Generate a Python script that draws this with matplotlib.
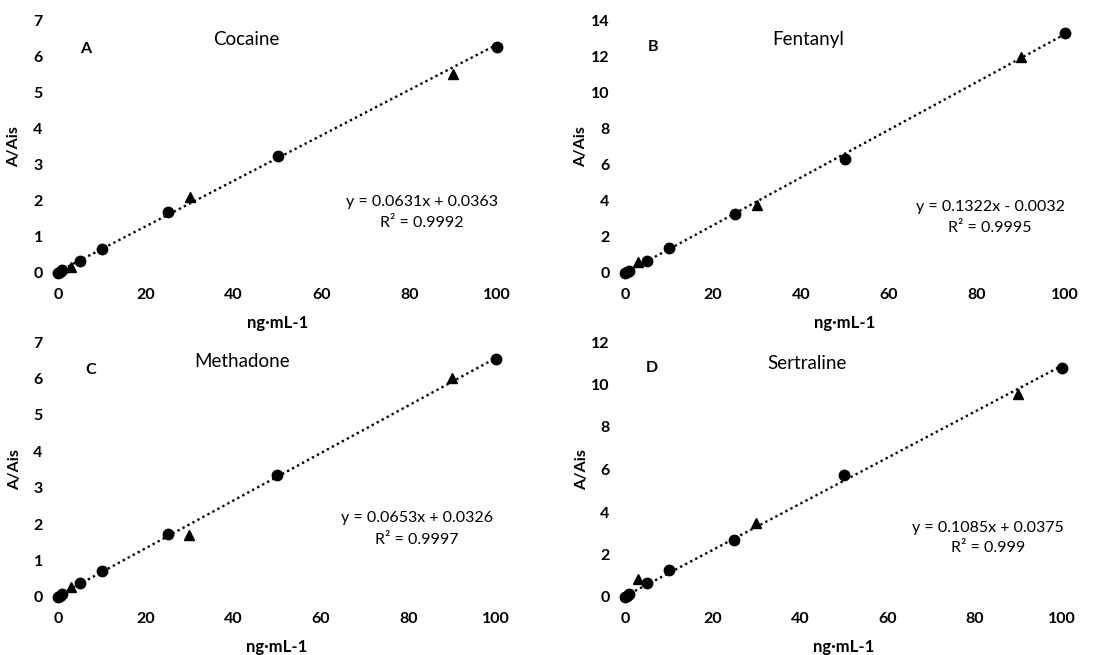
import matplotlib
matplotlib.use("Agg")
import matplotlib.pyplot as plt
import numpy as np

plt.rcParams['font.family'] = ['Lato', 'DejaVu Sans']

# ---- data ----
cal_x = [0, 0.5, 1, 5, 10, 25, 50, 100]          # calibrators (circles)
qc_x = [3, 30, 90]                                 # QC levels (triangles)

names = ["Cocaine", "Fentanyl", "Methadone", "Sertraline"]
letters = ["A", "B", "C", "D"]

cal_y = {
    "Cocaine":    [0.0, 0.04, 0.08, 0.34, 0.66, 1.69, 3.26, 6.29],
    "Fentanyl":   [0.0, 0.06, 0.13, 0.68, 1.40, 3.25, 6.31, 13.26],
    "Methadone":  [0.0, 0.04, 0.07, 0.38, 0.71, 1.74, 3.34, 6.52],
    "Sertraline": [0.0, 0.06, 0.13, 0.66, 1.29, 2.67, 5.76, 10.78],
}
qc_y = {
    "Cocaine":    [0.17, 2.12, 5.52],
    "Fentanyl":   [0.59, 3.76, 11.94],
    "Methadone":  [0.28, 1.69, 6.00],
    "Sertraline": [0.83, 3.50, 9.54],
}
slopes = [0.0631, 0.1322, 0.0653, 0.1085]
intercepts = [0.0363, -0.0032, 0.0326, 0.0375]
eq_text = ["y = 0.0631x + 0.0363", "y = 0.1322x - 0.0032",
           "y = 0.0653x + 0.0326", "y = 0.1085x + 0.0375"]
r2_text = ["R² = 0.9992", "R² = 0.9995", "R² = 0.9997", "R² = 0.999"]

y_max = [7, 14, 7, 12]
y_step = [1, 2, 1, 2]
x_ticks = [0, 20, 40, 60, 80, 100]

# ---- layout ----
W, H = 1106, 655
fig = plt.figure(figsize=(W / 100, H / 100), dpi=100)

# pixel boxes: left, right, top, bottom
boxes = [(58, 497, 21, 273), (625, 1065, 20, 273),
         (58, 496, 342, 597), (625, 1062, 342, 597)]
letter_pos = [(0.064, 0.889), (0.064, 0.893), (0.075, 0.89), (0.062, 0.898)]
title_pos = [(0.428, 0.925), (0.416, 0.921), (0.42, 0.923), (0.416, 0.914)]
eq_pos = [(0.829, 0.283, 0.198), (0.83, 0.26, 0.178),
          (0.82, 0.31, 0.224), (0.83, 0.27, 0.192)]

for i, name in enumerate(names):
    l, r, t, b = boxes[i]
    ax = fig.add_axes([l / W, 1 - b / H, (r - l) / W, (b - t) / H])
    for s in ax.spines.values():
        s.set_visible(False)
    ax.set_xlim(0, 100)
    ax.set_ylim(0, y_max[i])

    xl = np.array([0, 100])
    ax.plot(xl, slopes[i] * xl + intercepts[i], linestyle=(0, (1, 1.4)),
            color='black', linewidth=1.7, clip_on=False, zorder=2)
    ax.plot(cal_x, cal_y[name], 'o', color='black', markersize=7.5,
            clip_on=False, zorder=3)
    ax.plot(qc_x, qc_y[name], '^', color='black', markersize=7.5,
            clip_on=False, zorder=3)

    ax.set_xticks(x_ticks)
    ax.set_yticks(np.arange(0, y_max[i] + 0.1, y_step[i]))
    ax.tick_params(length=0, labelsize=11.5, pad=11)
    for lab in ax.get_xticklabels() + ax.get_yticklabels():
        lab.set_fontweight('bold')

    ax.set_xlabel("ng·mL-1", fontsize=12, fontweight='bold')
    ax.set_ylabel("A/Ais", fontsize=11.5, fontweight='bold')
    ax.xaxis.set_label_coords(0.5, -0.165)
    ax.yaxis.set_label_coords(-0.083, 0.5)

    ax.text(*letter_pos[i], letters[i], transform=ax.transAxes, fontsize=11.5,
            fontweight='bold', ha='center', va='center')
    ax.text(*title_pos[i], name, transform=ax.transAxes, fontsize=13.5,
            ha='center', va='center')
    ex, ey1, ey2 = eq_pos[i]
    ax.text(ex, ey1, eq_text[i], transform=ax.transAxes, fontsize=11.5,
            ha='center', va='center')
    ax.text(ex, ey2, r2_text[i], transform=ax.transAxes, fontsize=11.5,
            ha='center', va='center')

fig.savefig("out.png", dpi=100)
